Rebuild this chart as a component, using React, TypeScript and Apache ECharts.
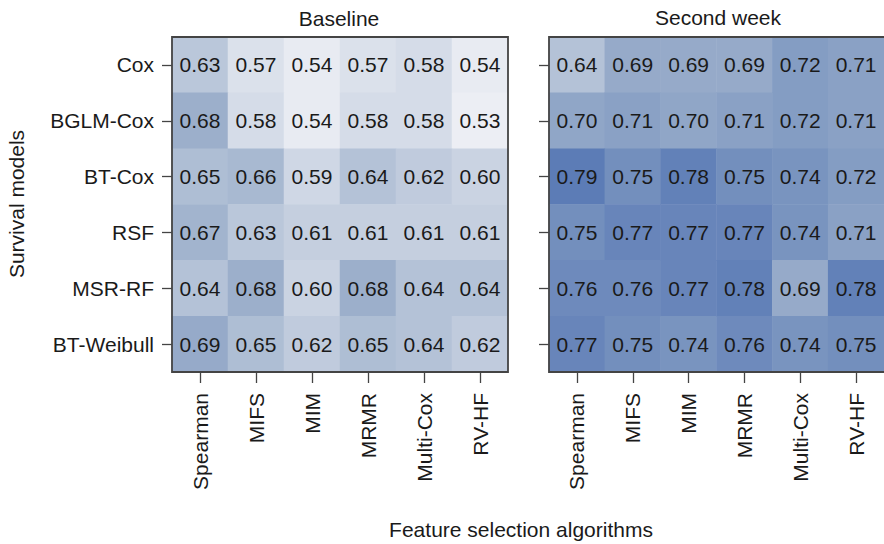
import React, { useEffect, useRef } from "react";
import * as echarts from "echarts";

const models = ["Cox", "BGLM-Cox", "BT-Cox", "RSF", "MSR-RF", "BT-Weibull"];
const algorithms = ["Spearman", "MIFS", "MIM", "MRMR", "Multi-Cox", "RV-HF"];

const baseline = [
  [0.63, 0.57, 0.54, 0.57, 0.58, 0.54],
  [0.68, 0.58, 0.54, 0.58, 0.58, 0.53],
  [0.65, 0.66, 0.59, 0.64, 0.62, 0.60],
  [0.67, 0.63, 0.61, 0.61, 0.61, 0.61],
  [0.64, 0.68, 0.60, 0.68, 0.64, 0.64],
  [0.69, 0.65, 0.62, 0.65, 0.64, 0.62],
];

const secondWeek = [
  [0.64, 0.69, 0.69, 0.69, 0.72, 0.71],
  [0.70, 0.71, 0.70, 0.71, 0.72, 0.71],
  [0.79, 0.75, 0.78, 0.75, 0.74, 0.72],
  [0.75, 0.77, 0.77, 0.77, 0.74, 0.71],
  [0.76, 0.76, 0.77, 0.78, 0.69, 0.78],
  [0.77, 0.75, 0.74, 0.76, 0.74, 0.75],
];

const toCells = (m: number[][]) => {
  const out: [number, number, number][] = [];
  m.forEach((row, r) => row.forEach((v, c) => out.push([c, r, v])));
  return out;
};

const FONT = "Liberation Sans, Arial, sans-serif";
const TXT = "#1a1a1a";
const FS = 21;

export default function App() {
  const ref = useRef<HTMLDivElement>(null);
  useEffect(() => {
    if (!ref.current) return;
    const chart = echarts.init(ref.current, null, { renderer: "svg" });
    const grids = [
      { left: 172, top: 37, width: 336, height: 335 },
      { left: 549, top: 37, width: 336, height: 335 },
    ];
    const xAxis = grids.map((_, i) => ({
      type: "category",
      gridIndex: i,
      data: algorithms,
      position: "bottom",
      axisLine: { show: false },
      axisTick: { show: true, length: 11, alignWithLabel: true, lineStyle: { color: "#444", width: 1.3 } },
      axisLabel: {
        rotate: 90,
        fontSize: FS,
        fontFamily: FONT,
        color: TXT,
        margin: 21,
      },
      splitLine: { show: false },
    }));
    const yAxis = grids.map((_, i) => ({
      type: "category",
      gridIndex: i,
      data: models,
      inverse: true,
      axisLine: { show: false },
      axisTick: { show: true, length: 10, alignWithLabel: true, lineStyle: { color: "#444", width: 1.3 } },
      axisLabel: {
        show: i === 0,
        fontSize: FS,
        fontFamily: FONT,
        color: TXT,
        margin: 18,
      },
      splitLine: { show: false },
    }));
    const mkSeries = (data: number[][], i: number) => ({
      type: "heatmap",
      xAxisIndex: i,
      yAxisIndex: i,
      data: toCells(data),
      label: {
        show: true,
        fontSize: FS,
        fontFamily: FONT,
        color: TXT,
        formatter: (p: any) => p.value[2].toFixed(2),
      },
      itemStyle: { borderWidth: 0 },
      emphasis: { disabled: true },
    });
    chart.setOption({
      animation: false,
      grid: grids,
      xAxis,
      yAxis,
      visualMap: {
        show: false,
        type: "continuous",
        min: 0.53,
        max: 0.79,
        seriesIndex: [0, 1],
        dimension: 2,
        inRange: {
          color: [
            "#eceef4",
            "#dfe4ed",
            "#ccd5e3",
            "#bcc8db",
            "#a8b9d1",
            "#94a9c8",
            "#819bc2",
            "#6f8bbc",
            "#5c7cb6",
          ],
        },
      },
      series: [mkSeries(baseline, 0), mkSeries(secondWeek, 1)],
      graphic: [
        {
          type: "rect",
          shape: { x: 172, y: 37, width: 336, height: 335 },
          style: { fill: "none", stroke: "#444", lineWidth: 1.8 },
          z: 100,
        },
        {
          type: "rect",
          shape: { x: 549, y: 37, width: 336, height: 335 },
          style: { fill: "none", stroke: "#444", lineWidth: 1.8 },
          z: 100,
        },
        {
          type: "text",
          x: 339,
          y: 18,
          style: { text: "Baseline", fontSize: FS, fontFamily: FONT, fill: TXT, align: "center", verticalAlign: "middle" },
        },
        {
          type: "text",
          x: 718,
          y: 17,
          style: { text: "Second week", fontSize: FS, fontFamily: FONT, fill: TXT, align: "center", verticalAlign: "middle" },
        },
        {
          type: "text",
          x: 521,
          y: 529,
          style: { text: "Feature selection algorithms", fontSize: FS, fontFamily: FONT, fill: TXT, align: "center", verticalAlign: "middle" },
        },
        {
          type: "text",
          x: 16,
          y: 204,
          rotation: Math.PI / 2,
          style: { text: "Survival models", fontSize: FS, fontFamily: FONT, fill: TXT, align: "center", verticalAlign: "middle" },
        },
      ],
    });
    return () => chart.dispose();
  }, []);
  return (
    <div
      ref={ref}
      style={{ position: "fixed", left: 0, top: 0, width: 884, height: 544, background: "#fff" }}
    />
  );
}
